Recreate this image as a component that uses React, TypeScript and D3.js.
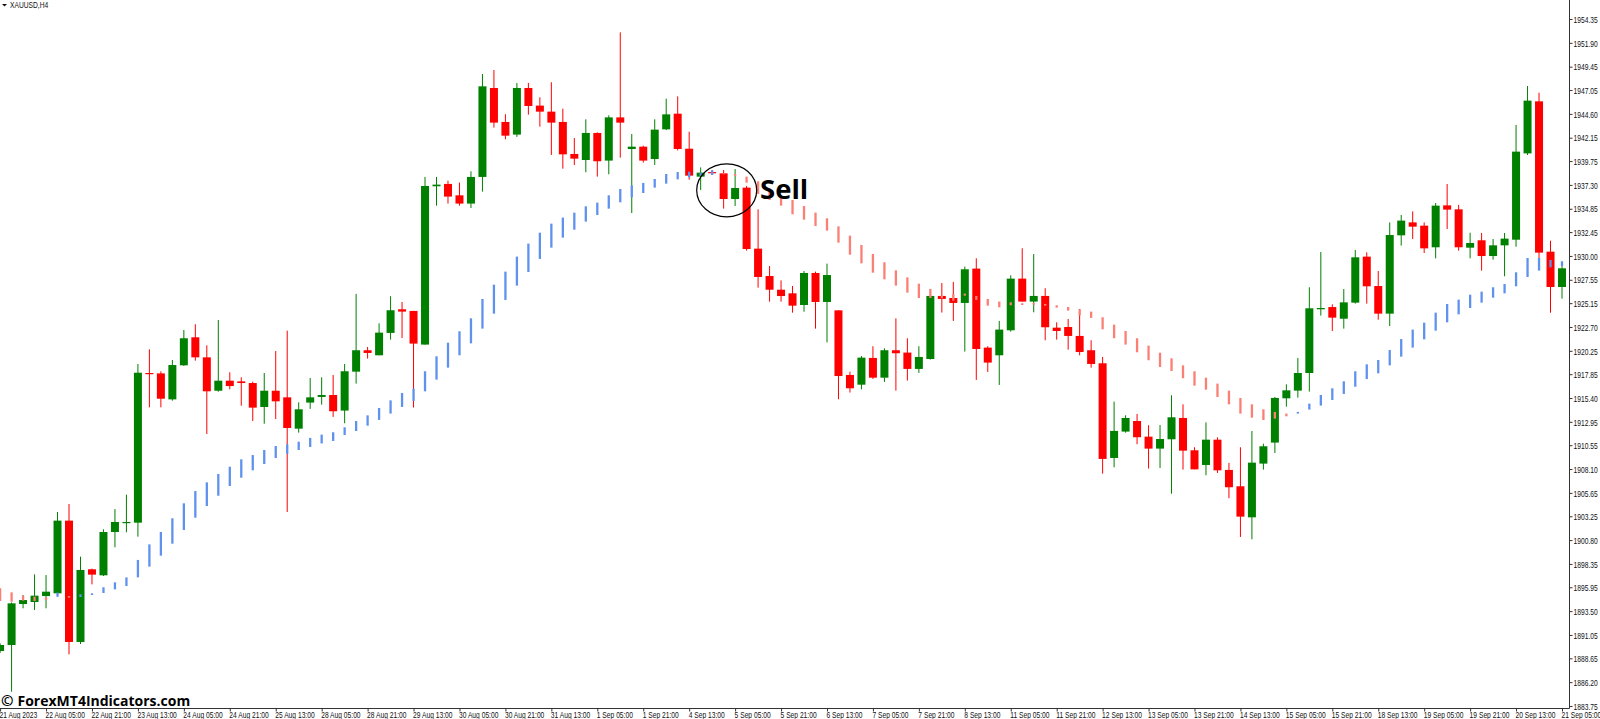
import React, { useRef, useEffect } from 'react';
import * as d3 from 'd3';

const W = 1600;
const H = 719;

const priceLabels = [1954.35, 1951.9, 1949.45, 1947.05, 1944.6, 1942.15, 1939.75, 1937.3, 1934.85, 1932.45,
    1930.0, 1927.55, 1925.15, 1922.7, 1920.25, 1917.85, 1915.4, 1912.95, 1910.55, 1908.1,
    1905.65, 1903.25, 1900.8, 1898.35, 1895.95, 1893.5, 1891.05, 1888.65, 1886.2, 1883.75];

// one label every 4 bars
const timeLabels = ['21 Aug 2023', '22 Aug 05:00', '22 Aug 21:00', '23 Aug 13:00', '24 Aug 05:00', '24 Aug 21:00', '25 Aug 13:00',
    '28 Aug 05:00', '28 Aug 21:00', '29 Aug 13:00', '30 Aug 05:00', '30 Aug 21:00', '31 Aug 13:00', '1 Sep 05:00', '1 Sep 21:00',
    '4 Sep 13:00', '5 Sep 05:00', '5 Sep 21:00', '6 Sep 13:00', '7 Sep 05:00', '7 Sep 21:00', '8 Sep 13:00', '11 Sep 05:00',
    '11 Sep 21:00', '12 Sep 13:00', '13 Sep 05:00', '13 Sep 21:00', '14 Sep 13:00', '15 Sep 05:00', '15 Sep 21:00', '18 Sep 13:00',
    '19 Sep 05:00', '19 Sep 21:00', '20 Sep 13:00', '21 Sep 05:00'];

const opens = [1889.40, 1890.02, 1894.23, 1894.44, 1895.05, 1895.33, 1902.80, 1890.33, 1897.80, 1897.18,
    1901.63, 1902.56, 1902.59, 1917.97, 1917.93, 1915.26, 1918.76, 1921.64, 1919.58, 1916.15,
    1917.18, 1917.11, 1916.94, 1914.48, 1916.15, 1915.47, 1912.25, 1914.93, 1915.51, 1915.71,
    1914.11, 1918.11, 1920.31, 1919.79, 1922.09, 1924.52, 1924.35, 1920.89, 1937.16, 1937.40,
    1936.23, 1935.38, 1938.12, 1947.26, 1943.77, 1942.47, 1947.26, 1945.45, 1944.83, 1943.77,
    1940.48, 1939.86, 1942.64, 1939.80, 1944.24, 1940.99, 1941.23, 1939.96, 1943.01, 1944.62,
    1941.02, 1938.15, 1938.62, 1938.49, 1935.85, 1937.02, 1930.75, 1927.94, 1926.53, 1926.16,
    1924.96, 1928.25, 1925.27, 1924.41, 1917.77, 1916.77, 1919.52, 1917.49, 1920.31, 1920.07,
    1918.39, 1919.41, 1925.89, 1925.68, 1925.17, 1928.70, 1920.58, 1919.79, 1922.36, 1927.67,
    1925.31, 1925.89, 1922.63, 1922.70, 1921.78, 1920.31, 1918.97, 1909.24, 1911.95, 1913.04,
    1911.43, 1910.20, 1911.16, 1913.35, 1910.03, 1908.52, 1911.12, 1908.01, 1906.33, 1903.14,
    1908.66, 1910.82, 1915.37, 1916.16, 1917.97, 1924.52, 1924.75, 1923.55, 1925.20, 1929.93,
    1926.91, 1924.07, 1932.12, 1933.45, 1933.11, 1930.89, 1935.20, 1934.79, 1930.85, 1931.61,
    1929.99, 1931.09, 1931.67, 1940.54, 1945.89, 1930.44, 1926.81];

const closes = [1890.02, 1894.30, 1894.64, 1895.09, 1895.50, 1902.80, 1890.33, 1897.73, 1897.25, 1901.63,
    1902.66, 1902.66, 1918.00, 1917.87, 1915.33, 1918.79, 1921.54, 1919.58, 1916.09, 1917.18,
    1916.63, 1916.94, 1914.41, 1916.15, 1915.06, 1912.32, 1914.24, 1915.47, 1915.71, 1914.04,
    1918.15, 1920.31, 1920.03, 1922.12, 1924.42, 1924.28, 1920.99, 1937.19, 1937.33, 1936.10,
    1935.38, 1938.12, 1947.43, 1943.70, 1942.36, 1947.26, 1945.41, 1944.83, 1943.70, 1940.44,
    1940.00, 1942.64, 1939.73, 1944.24, 1943.70, 1941.23, 1939.80, 1942.98, 1944.55, 1940.99,
    1938.25, 1938.56, 1938.56, 1935.85, 1936.98, 1930.71, 1927.84, 1926.53, 1925.88, 1924.89,
    1928.25, 1925.27, 1928.04, 1917.66, 1916.40, 1919.55, 1917.49, 1920.31, 1920.00, 1918.39,
    1919.62, 1925.89, 1925.58, 1925.17, 1928.63, 1920.44, 1919.04, 1922.43, 1927.67, 1925.31,
    1925.89, 1922.67, 1922.29, 1921.78, 1920.13, 1918.90, 1909.14, 1912.02, 1913.35, 1911.37,
    1910.20, 1911.19, 1913.42, 1909.99, 1908.07, 1911.12, 1907.97, 1906.23, 1903.21, 1908.76,
    1910.44, 1915.41, 1916.19, 1917.97, 1924.62, 1924.65, 1923.66, 1925.23, 1929.86, 1926.88,
    1924.07, 1932.15, 1933.63, 1933.01, 1930.78, 1935.17, 1934.76, 1930.89, 1931.33, 1929.99,
    1931.09, 1931.78, 1940.72, 1945.96, 1930.34, 1926.81, 1928.73];

const highs = [1890.20, 1894.40, 1895.16, 1897.28, 1897.21, 1903.69, 1904.51, 1899.10, 1897.87, 1901.91,
    1903.99, 1905.47, 1918.89, 1920.40, 1918.14, 1919.31, 1922.39, 1922.98, 1920.81, 1923.42,
    1918.04, 1917.52, 1917.08, 1917.97, 1920.23, 1922.32, 1914.96, 1917.46, 1917.53, 1917.77,
    1918.90, 1926.10, 1920.65, 1923.08, 1925.86, 1925.27, 1924.35, 1938.12, 1938.12, 1937.74,
    1937.54, 1938.70, 1948.70, 1949.11, 1944.56, 1947.78, 1947.78, 1946.30, 1947.85, 1945.14,
    1942.12, 1944.04, 1942.70, 1944.45, 1952.98, 1942.53, 1941.33, 1944.04, 1946.16, 1946.40,
    1942.77, 1939.10, 1938.83, 1938.83, 1938.93, 1937.20, 1934.79, 1928.97, 1927.49, 1926.91,
    1928.45, 1928.39, 1929.21, 1924.41, 1918.11, 1919.72, 1920.72, 1920.51, 1923.59, 1921.54,
    1920.72, 1925.95, 1927.22, 1927.33, 1928.90, 1929.76, 1920.72, 1923.32, 1928.01, 1930.79,
    1930.20, 1926.68, 1923.18, 1923.52, 1924.55, 1921.33, 1919.62, 1915.03, 1913.63, 1913.76,
    1912.60, 1912.63, 1915.68, 1914.75, 1910.34, 1912.90, 1911.36, 1908.73, 1910.34, 1912.01,
    1910.71, 1915.51, 1916.81, 1919.52, 1926.78, 1930.40, 1925.03, 1926.60, 1930.61, 1930.37,
    1928.45, 1933.45, 1934.21, 1934.58, 1933.45, 1935.44, 1937.39, 1935.24, 1932.39, 1932.36,
    1931.74, 1932.36, 1943.46, 1947.46, 1946.78, 1931.57, 1929.41];

const lows = [1889.20, 1885.22, 1893.79, 1893.62, 1893.79, 1894.99, 1889.06, 1890.12, 1896.25, 1897.11,
    1900.06, 1901.60, 1901.15, 1914.44, 1914.44, 1915.13, 1918.69, 1919.24, 1911.70, 1916.05,
    1916.29, 1914.61, 1913.04, 1912.76, 1913.24, 1903.69, 1911.84, 1914.28, 1914.72, 1913.46,
    1912.81, 1916.88, 1919.45, 1919.79, 1921.40, 1921.57, 1914.42, 1920.89, 1935.17, 1935.38,
    1935.17, 1934.93, 1936.61, 1943.19, 1941.99, 1942.23, 1944.52, 1943.29, 1940.38, 1938.97,
    1939.35, 1938.60, 1938.15, 1938.39, 1940.10, 1934.41, 1939.59, 1939.35, 1942.94, 1940.85,
    1937.84, 1936.78, 1938.32, 1934.86, 1935.13, 1930.54, 1926.74, 1925.30, 1925.30, 1924.17,
    1924.27, 1922.53, 1921.12, 1915.27, 1915.96, 1916.29, 1917.36, 1917.05, 1916.16, 1917.19,
    1917.98, 1919.35, 1924.18, 1923.32, 1920.17, 1917.26, 1918.08, 1916.74, 1922.22, 1925.31,
    1924.21, 1921.33, 1921.40, 1920.37, 1919.79, 1918.52, 1907.63, 1908.28, 1911.84, 1910.65,
    1908.15, 1908.21, 1905.57, 1908.04, 1908.07, 1907.46, 1907.70, 1905.10, 1901.12, 1900.88,
    1908.04, 1909.75, 1914.51, 1915.44, 1916.06, 1923.87, 1922.29, 1922.53, 1925.10, 1925.10,
    1923.45, 1922.80, 1931.06, 1931.74, 1930.30, 1929.75, 1932.77, 1930.54, 1929.75, 1928.49,
    1929.62, 1927.91, 1930.95, 1940.37, 1929.75, 1924.17, 1925.61];

// trend indicator: a short bar from signalHigh to signalLow on every candle
const signalHigh = [1895.84, 1895.43, 1895.09, 1894.99, 1894.92, 1895.40, 1895.05, 1895.23, 1895.33, 1895.95,
    1896.46, 1896.97, 1898.76, 1900.36, 1901.63, 1903.04, 1904.58, 1905.84, 1906.73, 1907.59,
    1908.34, 1909.10, 1909.54, 1910.06, 1910.47, 1910.64, 1910.91, 1911.30, 1911.64, 1911.88,
    1912.39, 1913.04, 1913.62, 1914.38, 1915.16, 1915.92, 1916.36, 1918.15, 1919.69, 1921.09,
    1922.26, 1923.59, 1925.58, 1927.05, 1928.39, 1929.93, 1931.27, 1932.39, 1933.32, 1933.94,
    1934.45, 1935.10, 1935.48, 1936.23, 1936.88, 1937.26, 1937.50, 1937.91, 1938.42, 1938.62,
    1938.66, 1938.56, 1938.80, 1938.49, 1938.42, 1938.15, 1937.67, 1936.95, 1935.99, 1935.75,
    1935.13, 1934.45, 1933.87, 1933.04, 1932.09, 1931.13, 1930.20, 1929.35, 1928.52, 1927.80,
    1927.15, 1926.61, 1925.89, 1926.09, 1926.13, 1925.89, 1925.58, 1925.31, 1925.24, 1925.14,
    1925.17, 1925.07, 1924.93, 1924.76, 1924.52, 1924.28, 1923.70, 1922.94, 1922.29, 1921.54,
    1920.78, 1920.06, 1919.48, 1918.76, 1918.15, 1917.49, 1916.88, 1916.16, 1915.40, 1914.75,
    1914.24, 1913.97, 1913.80, 1913.97, 1914.82, 1915.71, 1916.40, 1917.12, 1918.15, 1918.86,
    1919.31, 1920.33, 1921.46, 1922.43, 1923.14, 1924.17, 1925.06, 1925.51, 1926.02, 1926.33,
    1926.78, 1927.12, 1928.32, 1929.79, 1929.79, 1929.58, 1929.45];

const signalLow = [1894.54, 1894.47, 1894.58, 1894.54, 1894.64, 1894.99, 1894.88, 1894.95, 1895.16, 1895.36,
    1895.74, 1896.08, 1896.97, 1898.07, 1899.20, 1900.43, 1901.84, 1903.10, 1904.30, 1905.36,
    1906.36, 1907.21, 1907.97, 1908.62, 1909.23, 1909.65, 1910.06, 1910.37, 1910.73, 1910.98,
    1911.60, 1912.01, 1912.56, 1913.15, 1913.80, 1914.48, 1915.10, 1916.09, 1917.29, 1918.52,
    1919.79, 1921.02, 1922.53, 1924.07, 1925.48, 1926.95, 1928.35, 1929.69, 1930.85, 1931.88,
    1932.70, 1933.53, 1934.21, 1934.86, 1935.51, 1936.02, 1936.47, 1937.02, 1937.43, 1937.87,
    1938.08, 1938.22, 1938.32, 1938.39, 1938.22, 1937.53, 1936.37, 1935.75, 1935.17, 1934.28,
    1933.73, 1933.08, 1932.60, 1931.37, 1930.13, 1929.24, 1928.28, 1927.60, 1926.95, 1926.23,
    1925.68, 1925.68, 1925.65, 1925.41, 1925.92, 1925.48, 1924.89, 1924.72, 1924.93, 1924.96,
    1925.00, 1924.89, 1924.69, 1924.38, 1923.90, 1923.63, 1922.46, 1921.54, 1920.89, 1920.10,
    1919.28, 1918.59, 1918.18, 1917.43, 1916.67, 1916.26, 1915.51, 1914.75, 1913.80, 1913.38,
    1913.14, 1913.28, 1913.52, 1913.80, 1914.21, 1914.62, 1915.20, 1915.82, 1916.56, 1917.35,
    1917.94, 1918.76, 1919.65, 1920.58, 1921.43, 1922.32, 1923.18, 1924.00, 1924.65, 1925.20,
    1925.71, 1926.16, 1926.88, 1927.84, 1928.49, 1928.83, 1928.97];

// bars where the indicator is in its sell state, the rest are buy
const sellBars = [0, 1, 2, 3, 4, 6, ...d3.range(63, 113)];

const App: React.FC = () => {
    const svgRef = useRef<SVGSVGElement | null>(null);

    useEffect(() => {
        if (!svgRef.current) return;

        const svg = d3.select(svgRef.current);
        svg.selectAll('*').remove();

        const axisX = 1569.5;
        const axisY = 708.5;

        const x = d3.scaleLinear().domain([0, opens.length - 1]).range([0.1, 1562]);
        const y = d3.scaleLinear().domain([1954.35, 1883.75]).range([19, 706]);

        const bars = d3.range(opens.length);
        const sell = new Set(sellBars);
        const bodyWidth = 8;
        const labelFont = '9.3px "Liberation Sans"';

        // wicks
        svg.append('g').selectAll('line')
            .data(bars)
            .enter().append('line')
            .attr('x1', i => x(i))
            .attr('x2', i => x(i))
            .attr('y1', i => y(highs[i]))
            .attr('y2', i => y(lows[i]))
            .attr('stroke', i => closes[i] >= opens[i] ? '#008000' : '#ff0000')
            .attr('stroke-width', 1);

        // bodies
        svg.append('g').selectAll('rect')
            .data(bars)
            .enter().append('rect')
            .attr('x', i => x(i) - bodyWidth / 2)
            .attr('width', bodyWidth)
            .attr('y', i => y(Math.max(opens[i], closes[i])))
            .attr('height', i => Math.max(1.2, Math.abs(y(opens[i]) - y(closes[i]))))
            .attr('fill', i => closes[i] >= opens[i] ? '#008000' : '#ff0000');

        // indicator goes on top of the candles
        svg.append('g').selectAll('line')
            .data(bars)
            .enter().append('line')
            .attr('x1', i => x(i))
            .attr('x2', i => x(i))
            .attr('y1', i => y(signalHigh[i]))
            .attr('y2', i => y(signalLow[i]))
            .attr('stroke', i => sell.has(i) ? '#fb7f74' : '#5f92ee')
            .attr('stroke-width', 2.3);

        // frame
        svg.append('line')
            .attr('x1', 0).attr('x2', axisX).attr('y1', axisY).attr('y2', axisY)
            .attr('stroke', '#333').attr('stroke-width', 1);
        svg.append('line')
            .attr('x1', axisX).attr('x2', axisX).attr('y1', 0).attr('y2', axisY)
            .attr('stroke', '#333').attr('stroke-width', 1);

        // price axis
        const yAxis = svg.append('g')
            .attr('transform', `translate(${axisX},0)`)
            .call(d3.axisRight(y)
                .tickValues(priceLabels)
                .tickFormat(d3.format('.2f') as any)
                .tickSize(3)
                .tickSizeOuter(0));
        yAxis.select('.domain').remove();
        yAxis.selectAll('line').attr('stroke', '#333');
        yAxis.selectAll('text')
            .attr('x', 0)
            .attr('y', 0)
            .attr('dy', null)
            .attr('transform', 'translate(4,3.2) scale(0.72,1)')
            .attr('fill', '#111')
            .style('font', labelFont);

        // time axis
        const xAxis = svg.append('g')
            .attr('transform', `translate(0,${axisY})`)
            .call(d3.axisBottom(x)
                .tickValues(timeLabels.map((_, i) => i * 4))
                .tickFormat((_, i) => timeLabels[i])
                .tickSize(3)
                .tickSizeOuter(0));
        xAxis.select('.domain').remove();
        xAxis.selectAll('line').attr('stroke', '#333');
        xAxis.selectAll('text')
            .attr('x', 0)
            .attr('y', 0)
            .attr('dy', null)
            .attr('text-anchor', 'start')
            .attr('transform', 'translate(-1,9.2) scale(0.72,1)')
            .attr('fill', '#111')
            .style('font', labelFont);

        // symbol caption
        svg.append('path')
            .attr('d', 'M2,4 L7,4 L4.5,6.5 Z')
            .attr('fill', '#111');
        svg.append('text')
            .attr('transform', 'translate(10,8) scale(0.72,1)')
            .attr('fill', '#111')
            .style('font', labelFont)
            .text('XAUUSD,H4');

        // signal annotation
        svg.append('ellipse')
            .attr('cx', 726.7).attr('cy', 190.3)
            .attr('rx', 30).attr('ry', 26.5)
            .attr('fill', 'none')
            .attr('stroke', '#000')
            .attr('stroke-width', 1.2);
        svg.append('text')
            .attr('x', 760)
            .attr('y', 198.5)
            .attr('fill', '#000')
            .style('font', '700 27.5px "Open Sans"')
            .text('Sell');

        // watermark
        const mark = svg.append('text')
            .attr('x', 1)
            .attr('y', 706)
            .attr('fill', '#000')
            .style('font', '700 14px "Open Sans"');
        mark.append('tspan').style('font-size', '15px').text('©');
        mark.append('tspan').attr('x', 17.5).text('ForexMT4Indicators.com');
    }, []);

    return (
        <svg
            ref={svgRef}
            width={W}
            height={H}
            style={{ position: 'absolute', left: 0, top: 0, background: '#fff', display: 'block' }}
        />
    );
};

export default App;
